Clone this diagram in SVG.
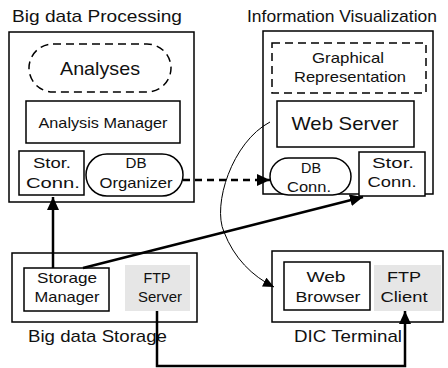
<svg xmlns="http://www.w3.org/2000/svg" width="448" height="368" viewBox="0 0 448 368">
<style>
text{font-family:"Liberation Sans",Arial,sans-serif;fill:#111;text-anchor:middle}
.t{font-size:17px;text-anchor:start}
.s{font-size:14.5px}
.box{fill:#fff;stroke:#000;stroke-width:1.5}
.dash{fill:#fff;stroke:#000;stroke-width:1.5;stroke-dasharray:8 5}
.gray{fill:#e6e6e6;stroke:none}
.thick{fill:none;stroke:#000;stroke-width:2.5}
.thin{fill:none;stroke:#000;stroke-width:1}
</style>
<defs>
<marker id="ah" markerUnits="userSpaceOnUse" markerWidth="14" markerHeight="12" refX="13" refY="6" orient="auto">
<path d="M0,0 L13,6 L0,12 Z" fill="#000"/>
</marker>
<marker id="ahs" markerUnits="userSpaceOnUse" markerWidth="12" markerHeight="10" refX="11" refY="5" orient="auto">
<path d="M0,0 L11,5 L0,10 Z" fill="#000"/>
</marker>
</defs>
<rect width="448" height="368" fill="#fff"/>

<g id="bigDataProcessing">
<text class="t" x="12" y="22" textLength="170" lengthAdjust="spacingAndGlyphs">Big data Processing</text>
<rect class="box" x="9" y="32" width="185" height="170"/>
</g>
<g id="analyses">
<rect class="dash" x="29" y="44" width="142" height="48" rx="24"/>
<text x="100" y="75" font-size="19" textLength="80" lengthAdjust="spacingAndGlyphs">Analyses</text>
</g>
<g id="analysisManager">
<rect class="box" x="26" y="101" width="154" height="42"/>
<text class="s" x="103" y="128" textLength="129" lengthAdjust="spacingAndGlyphs">Analysis Manager</text>
</g>
<g id="storConnLeft">
<rect class="box" x="19" y="151" width="65" height="44"/>
<text class="s" x="52" y="168" textLength="38" lengthAdjust="spacingAndGlyphs">Stor.</text>
<text class="s" x="53" y="188" textLength="54" lengthAdjust="spacingAndGlyphs">Conn.</text>
</g>
<g id="dbOrganizer">
<rect class="box" x="86" y="154" width="97" height="42" rx="21"/>
<text class="s" x="136" y="168" textLength="21" lengthAdjust="spacingAndGlyphs">DB</text>
<text class="s" x="136" y="188" textLength="73" lengthAdjust="spacingAndGlyphs">Organizer</text>
</g>

<g id="informationVisualization">
<text class="t" x="247" y="22" textLength="190" lengthAdjust="spacingAndGlyphs">Information Visualization</text>
<rect class="box" x="263" y="31" width="170" height="163"/>
</g>
<g id="graphicalRepresentation">
<rect class="dash" x="272" y="43" width="154" height="50"/>
<text class="s" x="348" y="63" textLength="72" lengthAdjust="spacingAndGlyphs">Graphical</text>
<text class="s" x="350" y="82" textLength="112" lengthAdjust="spacingAndGlyphs">Representation</text>
</g>
<g id="webServer">
<rect class="box" x="277" y="101" width="137" height="46"/>
<text x="345" y="130" font-size="19" textLength="107" lengthAdjust="spacingAndGlyphs">Web Server</text>
</g>
<g id="dbConn">
<rect class="box" x="270" y="158" width="81" height="37" rx="18.5"/>
<text class="s" x="311" y="173" textLength="20" lengthAdjust="spacingAndGlyphs">DB</text>
<text class="s" x="309" y="192" textLength="44" lengthAdjust="spacingAndGlyphs">Conn.</text>
</g>
<g id="storConnRight">
<rect class="box" x="359" y="152" width="66" height="44"/>
<text class="s" x="393" y="168" textLength="42" lengthAdjust="spacingAndGlyphs">Stor.</text>
<text class="s" x="392" y="187" textLength="49" lengthAdjust="spacingAndGlyphs">Conn.</text>
</g>

<g id="bigDataStorage">
<rect class="box" x="12" y="253" width="185" height="69"/>
<text class="t" x="28" y="342" textLength="139" lengthAdjust="spacingAndGlyphs">Big data Storage</text>
</g>
<g id="storageManager">
<rect class="box" x="24" y="268" width="85" height="43"/>
<text class="s" x="67" y="283" textLength="60" lengthAdjust="spacingAndGlyphs">Storage</text>
<text class="s" x="67" y="302" textLength="65" lengthAdjust="spacingAndGlyphs">Manager</text>
</g>
<g id="ftpServer">
<rect class="gray" x="125" y="265" width="65" height="46"/>
<text class="s" x="157" y="283" textLength="27" lengthAdjust="spacingAndGlyphs">FTP</text>
<text class="s" x="160" y="302" textLength="44" lengthAdjust="spacingAndGlyphs">Server</text>
</g>

<g id="dicTerminal">
<rect class="box" x="272" y="251" width="171" height="71"/>
<text class="t" x="294" y="342" textLength="108" lengthAdjust="spacingAndGlyphs">DIC Terminal</text>
</g>
<g id="webBrowser">
<rect class="box" x="284" y="262" width="86" height="48"/>
<text class="s" x="326" y="282" textLength="39" lengthAdjust="spacingAndGlyphs">Web</text>
<text class="s" x="328" y="302" textLength="65" lengthAdjust="spacingAndGlyphs">Browser</text>
</g>
<g id="ftpClient">
<rect class="gray" x="374" y="265" width="67" height="46"/>
<text class="s" x="404" y="282" textLength="34" lengthAdjust="spacingAndGlyphs">FTP</text>
<text class="s" x="404" y="302" textLength="47" lengthAdjust="spacingAndGlyphs">Client</text>
</g>

<g id="connectors">
<path class="thick" d="M53,268 L53,197" marker-end="url(#ah)"/>
<path class="thick" d="M83,268 L363,197" marker-end="url(#ah)"/>
<path class="thick" d="M183,180 L270,180" stroke-dasharray="7 5" marker-end="url(#ah)"/>
<path class="thin" d="M270,122 C232,142 212,205 224,232 C234,258 252,276 274,287" marker-end="url(#ahs)"/>
<path class="thick" d="M157,311 L157,366 L405,366 L405,311" marker-end="url(#ah)"/>
</g>
</svg>
